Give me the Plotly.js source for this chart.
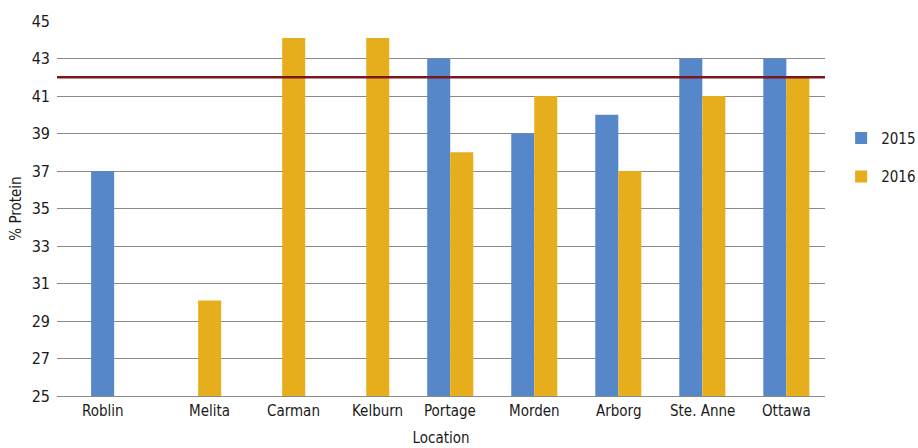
<!DOCTYPE html>
<html>
<head>
<meta charset="utf-8">
<script src="https://cdn.plot.ly/plotly-3.0.1.min.js"></script>
<style>
  html, body { margin: 0; padding: 0; background: #ffffff; }
  #chart { width: 918px; height: 448px; }
</style>
</head>
<body>
<div id="chart"></div>
<script>
// Protein content by location, two seasons
const locations = ["Roblin", "Melita", "Carman", "Kelburn", "Portage", "Morden", "Arborg", "Ste. Anne", "Ottawa"];
const protein2015 = [37, null, null, null, 43, 39, 40, 43, 43];
const protein2016 = [null, 30.1, 44.1, 44.1, 38, 41, 37, 41, 42];
const seriesNames = ["2015", "2016"];
const targetProtein = 42;
const yTicks = [25, 27, 29, 31, 33, 35, 37, 39, 41, 43, 45];

const FONT = '"Liberation Sans Narrow", "DejaVu Sans Condensed", sans-serif';
const TEXT = "#1a1a1a";
const BLUE = "#5587c9";
const GOLD = "#e6ad1c";

const margin = { l: 57, r: 93, t: 21, b: 52, autoexpand: false };
const plotW = 918 - margin.l - margin.r;
const xRange = [-0.68, 8.46];
const bargap = 0.452;
const pxPerCat = plotW / (xRange[1] - xRange[0]);
const barPx = pxPerCat * (1 - bargap) / 2;

const traces = [
  { type: "bar", name: seriesNames[0], legendgroup: "s15", x: locations, y: protein2015, marker: { color: BLUE } },
  { type: "bar", name: seriesNames[1], legendgroup: "s16", x: locations, y: protein2016, marker: { color: GOLD } }
];

// Category labels sit under the visible bar when only one season was measured
const labelAnnotations = locations.map((loc, i) => {
  const has15 = protein2015[i] !== null;
  const has16 = protein2016[i] !== null;
  let shift = 0;
  if (has15 && !has16) shift = -barPx / 2;
  if (!has15 && has16) shift = barPx / 2;
  return {
    x: loc, xref: "x", y: 0, yref: "paper",
    yanchor: "top", xanchor: "center", yshift: -4, xshift: shift,
    text: loc, showarrow: false,
    font: { family: FONT, size: 15, color: TEXT }
  };
});

const layout = {
  width: 918, height: 448,
  margin: margin,
  paper_bgcolor: "#ffffff", plot_bgcolor: "#ffffff",
  barmode: "group", bargap: bargap, bargroupgap: 0,
  font: { family: FONT, size: 15, color: TEXT },
  xaxis: {
    type: "category", range: xRange,
    showticklabels: false, ticks: "",
    showgrid: false, zeroline: false,
    showline: true, linecolor: "#8a8a8a", linewidth: 1,
    title: { text: "Location", font: { family: FONT, size: 15, color: TEXT }, standoff: 36 }
  },
  yaxis: {
    range: [25, 45], tickvals: yTicks, ticktext: yTicks.map(String),
    showgrid: true, gridcolor: "#8a8a8a", gridwidth: 1,
    zeroline: false, showline: false, ticks: "",
    ticklabelstandoff: 6,
    tickfont: { family: FONT, size: 16, color: TEXT },
    title: { text: "% Protein", font: { family: FONT, size: 15, color: TEXT }, standoff: 6 }
  },
  legend: {
    x: 1.021, xanchor: "left", y: 0.637, yanchor: "middle",
    traceorder: "grouped", tracegroupgap: 16,
    font: { family: FONT, size: 15, color: TEXT }
  },
  showlegend: true,
  shapes: [{
    type: "line", xref: "paper", x0: 0, x1: 1, yref: "y", y0: targetProtein, y1: targetProtein,
    line: { color: "#7a1620", width: 2.5 }
  }],
  annotations: labelAnnotations
};

Plotly.newPlot("chart", traces, layout, { displayModeBar: false, staticPlot: true });
</script>
</body>
</html>
